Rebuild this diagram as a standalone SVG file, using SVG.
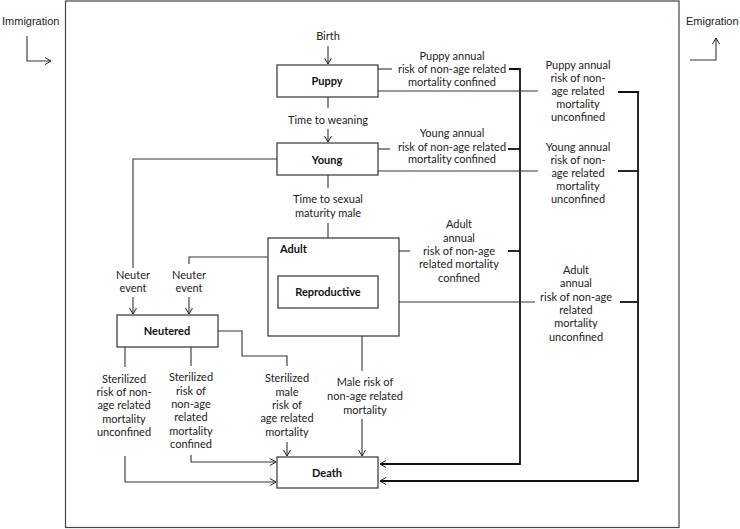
<svg xmlns="http://www.w3.org/2000/svg" width="740" height="529" viewBox="0 0 740 529">
<defs>
<marker id="ah" markerUnits="userSpaceOnUse" markerWidth="10" markerHeight="10" refX="7" refY="4" orient="auto">
<path d="M1,0.5 L7,4 L1,7.5" fill="none" stroke="#222" stroke-width="1"/>
</marker>
</defs>
<style>
.box{fill:#fff;stroke:#333;stroke-width:1.2}
.ln{fill:none;stroke:#333;stroke-width:1.1}
.thk{fill:none;stroke:#111;stroke-width:1.8}
.t{font-family:Lato,"Open Sans",sans-serif;font-size:11px;fill:#222;text-anchor:middle}
.b{font-family:Lato,"Open Sans",sans-serif;font-size:11px;font-weight:bold;fill:#111;text-anchor:middle}
.a{font-family:"Liberation Sans",Arial,sans-serif;font-size:11px;fill:#222}
</style>
<rect width="740" height="529" fill="#fff"/>
<rect x="65.5" y="1" width="613.5" height="526.5" fill="none" stroke="#444" stroke-width="1.2"/>
<g id="immigration">
<text class="a" x="2" y="25">Immigration</text>
<polyline class="ln" points="27,36 27,61 51,61" marker-end="url(#ah)"/>
</g>
<g id="emigration">
<text class="a" x="686" y="25">Emigration</text>
<polyline class="ln" points="690,60 716,60 716,38" marker-end="url(#ah)"/>
</g>
<g id="connectors">
<text class="t" x="328" y="40">Birth</text>
<line class="ln" x1="328" y1="46" x2="328" y2="64" marker-end="url(#ah)"/>
<line class="ln" x1="328" y1="97" x2="328" y2="108"/>
<text class="t" x="328" y="124">Time to weaning</text>
<line class="ln" x1="328" y1="129" x2="328" y2="142" marker-end="url(#ah)"/>
<line class="ln" x1="328" y1="175" x2="328" y2="188"/>
<text class="t" x="328" y="203">Time to sexual</text>
<text class="t" x="328" y="217">maturity male</text>
<line class="ln" x1="328" y1="223" x2="328" y2="275" marker-end="url(#ah)"/>
<polyline class="ln" points="277,159 133,159 133,268"/>
<text class="t" x="133" y="279">Neuter</text>
<text class="t" x="133" y="292">event</text>
<line class="ln" x1="133" y1="297" x2="133" y2="314" marker-end="url(#ah)"/>
<polyline class="ln" points="268,257 189,257 189,264"/>
<text class="t" x="189" y="279">Neuter</text>
<text class="t" x="189" y="292">event</text>
<line class="ln" x1="189" y1="297" x2="189" y2="314" marker-end="url(#ah)"/>
<line class="ln" x1="125" y1="347" x2="125" y2="367"/>
<text class="t" x="124" y="383">Sterilized</text>
<text class="t" x="124" y="396">risk of non-</text>
<text class="t" x="124" y="409">age related</text>
<text class="t" x="124" y="423">mortality</text>
<text class="t" x="124" y="436">unconfined</text>
<polyline class="ln" points="125,456 125,482 276,482" marker-end="url(#ah)"/>
<line class="ln" x1="191" y1="347" x2="191" y2="366"/>
<text class="t" x="191" y="381">Sterilized</text>
<text class="t" x="191" y="395">risk of</text>
<text class="t" x="191" y="408">non-age</text>
<text class="t" x="191" y="421">related</text>
<text class="t" x="191" y="435">mortality</text>
<text class="t" x="191" y="448">confined</text>
<polyline class="ln" points="191,455 191,462 276,462" marker-end="url(#ah)"/>
<polyline class="ln" points="218,331 242,331 242,356 287,356 287,366"/>
<text class="t" x="287" y="382">Sterilized</text>
<text class="t" x="287" y="396">male</text>
<text class="t" x="287" y="409">risk of</text>
<text class="t" x="287" y="422">age related</text>
<text class="t" x="287" y="436">mortality</text>
<line class="ln" x1="287" y1="442" x2="287" y2="456" marker-end="url(#ah)"/>
<line class="ln" x1="362" y1="336" x2="362" y2="371"/>
<text class="t" x="365" y="386">Male risk of</text>
<text class="t" x="365" y="400">non-age related</text>
<text class="t" x="365" y="414">mortality</text>
<line class="ln" x1="362" y1="419" x2="362" y2="456" marker-end="url(#ah)"/>
<line class="ln" x1="378" y1="69" x2="392" y2="69"/>
<text class="t" x="452" y="60">Puppy annual</text>
<text class="t" x="452" y="73">risk of non-age related</text>
<text class="t" x="452" y="86">mortality confined</text>
<polyline class="thk" points="509,69 520,69 520,464 380,464" marker-end="url(#ah)"/>
<line class="ln" x1="378" y1="91" x2="538" y2="91"/>
<text class="t" x="578" y="69">Puppy annual</text>
<text class="t" x="578" y="82">risk of non-</text>
<text class="t" x="578" y="95">age related</text>
<text class="t" x="578" y="108">mortality</text>
<text class="t" x="578" y="121">unconfined</text>
<polyline class="thk" points="618,92 638,92 638,481 380,481" marker-end="url(#ah)"/>
<line class="ln" x1="378" y1="149" x2="390" y2="149"/>
<text class="t" x="452" y="137">Young annual</text>
<text class="t" x="452" y="151">risk of non-age related</text>
<text class="t" x="452" y="163">mortality confined</text>
<line class="thk" x1="508" y1="149" x2="520" y2="149"/>
<line class="ln" x1="378" y1="171" x2="538" y2="171"/>
<text class="t" x="578" y="151">Young annual</text>
<text class="t" x="578" y="164">risk of non-</text>
<text class="t" x="578" y="177">age related</text>
<text class="t" x="578" y="190">mortality</text>
<text class="t" x="578" y="203">unconfined</text>
<line class="thk" x1="618" y1="171" x2="638" y2="171"/>
<line class="ln" x1="399" y1="251" x2="410" y2="251"/>
<text class="t" x="459" y="228">Adult</text>
<text class="t" x="459" y="242">annual</text>
<text class="t" x="459" y="255">risk of non-age</text>
<text class="t" x="459" y="268">related mortality</text>
<text class="t" x="459" y="282">confined</text>
<line class="thk" x1="508" y1="251" x2="520" y2="251"/>
<line class="ln" x1="399" y1="302" x2="535" y2="302"/>
<text class="t" x="576" y="274">Adult</text>
<text class="t" x="576" y="287">annual</text>
<text class="t" x="576" y="301">risk of non-age</text>
<text class="t" x="576" y="314">related</text>
<text class="t" x="576" y="327">mortality</text>
<text class="t" x="576" y="341">unconfined</text>
<line class="thk" x1="620" y1="302" x2="638" y2="302"/>
</g>
<g id="puppy">
<rect class="box" x="277" y="65" width="101" height="32"/>
<text class="b" x="327" y="85">Puppy</text>
</g>
<g id="young">
<rect class="box" x="277" y="143" width="101" height="32"/>
<text class="b" x="327" y="164">Young</text>
</g>
<g id="adult">
<rect class="box" x="268" y="238" width="131" height="98" fill="none"/>
<text class="b" x="280" y="253" style="text-anchor:start">Adult</text>
</g>
<g id="reproductive">
<rect class="box" x="278" y="276" width="100" height="32"/>
<text class="b" x="328" y="296">Reproductive</text>
</g>
<g id="neutered">
<rect class="box" x="117" y="315" width="101" height="32"/>
<text class="b" x="167" y="335">Neutered</text>
</g>
<g id="death">
<rect class="box" x="277" y="457" width="101" height="31"/>
<text class="b" x="327" y="477">Death</text>
</g>
</svg>
